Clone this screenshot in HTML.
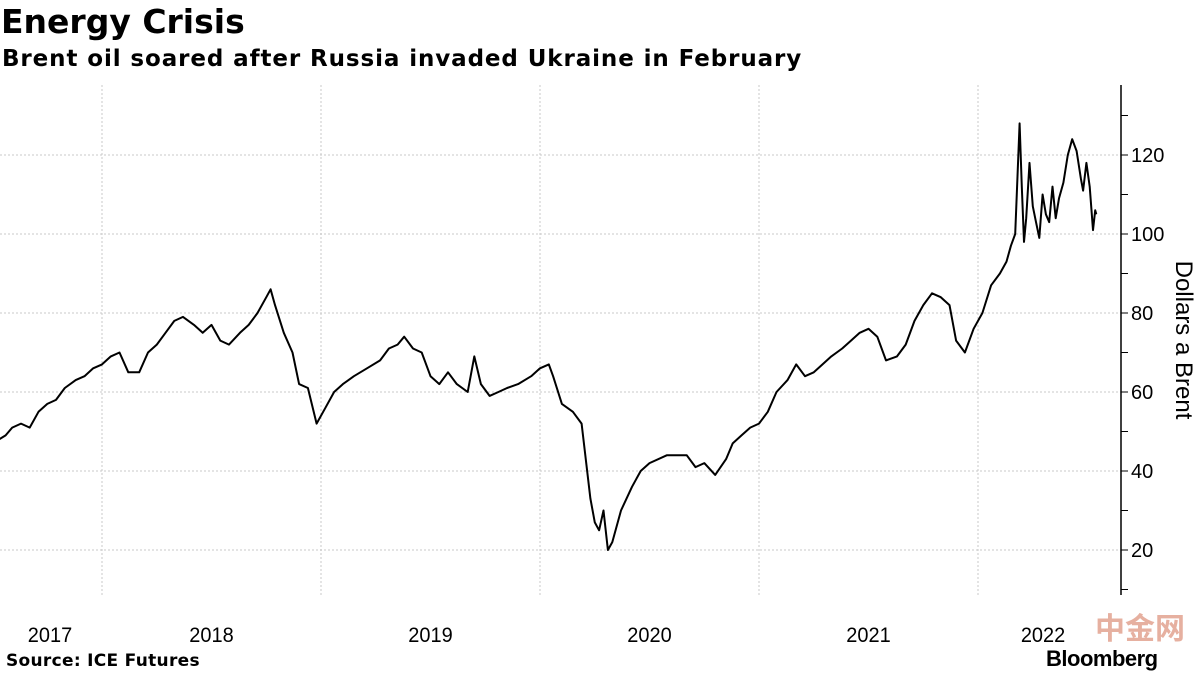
<!DOCTYPE html>
<html><head><meta charset="utf-8"><style>
body{margin:0;width:1200px;height:675px;background:#fff;overflow:hidden;position:relative;font-family:"DejaVu Sans","Liberation Sans",sans-serif}
.t{position:absolute;white-space:nowrap}
</style></head><body>
<div class="t" style="left:1px;top:2px;font-size:33px;font-weight:bold;letter-spacing:0px">Energy Crisis</div>
<div class="t" style="left:2px;top:46px;font-size:23px;font-weight:bold;letter-spacing:0.9px">Brent oil soared after Russia invaded Ukraine in February</div>
<div class="t" style="left:6px;top:651px;font-size:17px;font-weight:bold;letter-spacing:0.3px">Source: ICE Futures</div>
<div class="t" style="left:1095px;top:604px;font-family:'Noto Sans CJK SC',sans-serif;font-size:30px;font-weight:bold;color:#e6b0a0">中金网</div>
<div class="t" style="left:1046px;top:646px;font-family:'Liberation Sans',sans-serif;font-size:22px;font-weight:bold;letter-spacing:-0.5px">Bloomberg</div>
<svg id="c" width="1200" height="675" style="position:absolute;left:0;top:0"></svg>
<script>
const years=[2017,2018,2019,2020,2021,2022];
const yTicks=[20,40,60,80,100,120];
const times=[2017.53,2017.56,2017.59,2017.63,2017.67,2017.71,2017.75,2017.79,2017.83,2017.88,2017.92,2017.96,2018.00,2018.04,2018.08,2018.12,2018.17,2018.21,2018.25,2018.29,2018.33,2018.37,2018.42,2018.46,2018.50,2018.54,2018.58,2018.63,2018.67,2018.71,2018.75,2018.77,2018.79,2018.83,2018.87,2018.90,2018.94,2018.98,2019.02,2019.06,2019.10,2019.15,2019.21,2019.27,2019.31,2019.35,2019.38,2019.42,2019.46,2019.50,2019.54,2019.58,2019.62,2019.67,2019.70,2019.73,2019.77,2019.81,2019.85,2019.90,2019.96,2020.00,2020.04,2020.06,2020.10,2020.15,2020.19,2020.23,2020.25,2020.27,2020.29,2020.31,2020.33,2020.37,2020.42,2020.46,2020.50,2020.58,2020.67,2020.71,2020.75,2020.80,2020.85,2020.88,2020.92,2020.96,2021.00,2021.04,2021.08,2021.13,2021.17,2021.21,2021.25,2021.29,2021.33,2021.38,2021.42,2021.46,2021.50,2021.54,2021.58,2021.63,2021.67,2021.71,2021.75,2021.79,2021.83,2021.87,2021.90,2021.94,2021.98,2022.02,2022.06,2022.10,2022.13,2022.15,2022.17,2022.19,2022.20,2022.21,2022.22,2022.235,2022.25,2022.265,2022.28,2022.295,2022.31,2022.325,2022.34,2022.355,2022.37,2022.39,2022.41,2022.43,2022.45,2022.47,2022.48,2022.495,2022.51,2022.525,2022.535,2022.54];
const prices=[48,49,51,52,51,55,57,58,61,63,64,66,67,69,70,65,65,70,72,75,78,79,77,75,77,73,72,75,77,80,84,86,82,75,70,62,61,52,56,60,62,64,66,68,71,72,74,71,70,64,62,65,62,60,69,62,59,60,61,62,64,66,67,64,57,55,52,33,27,25,30,20,22,30,36,40,42,44,44,41,42,39,43,47,49,51,52,55,60,63,67,64,65,67,69,71,73,75,76,74,68,69,72,78,82,85,84,82,73,70,76,80,87,90,93,97,100,128,112,98,104,118,107,103,99,110,105,103,112,104,109,113,120,124,121,114,111,118,112,101,106,105];
const NS="http://www.w3.org/2000/svg",svg=document.getElementById('c');
const X=t=>102+(t-2018)*219, Y=v=>550-(v-20)*3.95;
function mk(tag,a){const e=document.createElementNS(NS,tag);for(const k in a)e.setAttribute(k,a[k]);svg.appendChild(e);return e;}
yTicks.forEach(v=>{
 const g=mk('line',{x1:0,x2:1121,y1:Y(v),y2:Y(v),stroke:'#c8c8c8','stroke-dasharray':'2,2'});
 
 
 const l=mk('text',{x:1131,y:Y(v)+7,'font-size':20,'font-family':'Liberation Sans, sans-serif'});
 l.textContent=v;
 
 
});
for(let v=10;v<=135;v+=10){const tk=mk('line',{x1:1121,x2:1128,y1:Y(v),y2:Y(v),stroke:'#000'});
 
 }
years.forEach(yr=>{
 if(yr>2017){const g=mk('line',{x1:X(yr),x2:X(yr),y1:85,y2:595,stroke:'#c8c8c8','stroke-dasharray':'2,2'});
 
 }
 const cx=yr===2017?50:Math.min(X(yr+0.5),1043);
 const l=mk('text',{x:cx,y:642,'font-size':21,'text-anchor':'middle','font-family':'Liberation Sans, sans-serif',transform:`translate(${cx},0) scale(0.95,1) translate(${-cx},0)`});
 l.textContent=yr;
 
 
});
const ax=mk('line',{x1:1121,x2:1121,y1:85,y2:595,stroke:'#000','stroke-width':1.5});


const yl=mk('text',{x:1176,y:340,'font-size':24,'text-anchor':'middle','font-family':'Liberation Sans, sans-serif',transform:'rotate(90 1176 340)'});
yl.textContent='Dollars a Brent';


const p=mk('path',{d:times.map((t,i)=>(i?'L':'M')+X(t).toFixed(1)+','+Y(prices[i]).toFixed(1)).join(''),fill:'none',stroke:'#000','stroke-width':2,'stroke-linejoin':'round'});


</script>
</body></html>
